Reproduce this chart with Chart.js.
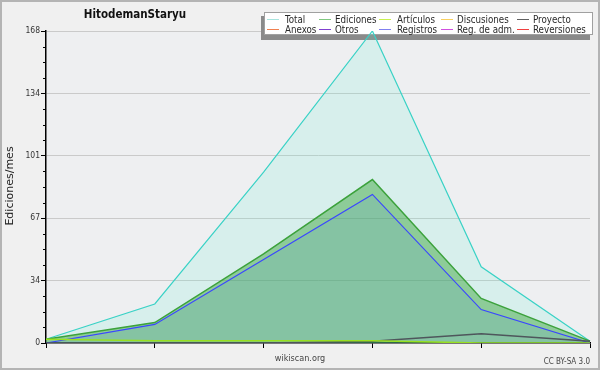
<!DOCTYPE html>
<html><head><meta charset="utf-8">
<script src="https://cdn.jsdelivr.net/npm/chart.js@4/dist/chart.umd.min.js"></script>
<style>html,body{margin:0;padding:0;background:#f0f0f0}#w{width:600px;height:370px}</style>
</head><body><div id="w"><canvas id="c" width="600" height="370"></canvas></div>
<script>
// ---- data ----
const categories = ['1', '2', '3', '4', '5', '6'];
const total      = [2, 21, 92, 168, 41, 1];
const ediciones  = [2, 11, 48, 88, 24, 1];
const registros  = [0, 10, 45, 80, 18, 0];
const articulos  = [2, 1.2, 1.2, 1.2, 0, 0];
const proyecto   = [0, 0, 0, 1, 5, 1];
const yTickValues = [0, 33.6, 67.2, 100.8, 134.4, 168];
const chartTitle = 'HitodemanStaryu';
const yTitle = 'Ediciones/mes';
const xNote = 'wikiscan.org';
const license = 'CC BY-SA 3.0';
const legendRows = [
  ['Total', 'Ediciones', 'Artículos', 'Discusiones', 'Proyecto'],
  ['Anexos', 'Otros', 'Registros', 'Reg. de adm.', 'Reversiones']
];

const legendColors = {
  'Total':'#a8e4de','Ediciones':'#80c880','Artículos':'#c8f050','Discusiones':'#f8d060','Proyecto':'#606060',
  'Anexos':'#f08050','Otros':'#8040d0','Registros':'#8080f0','Reg. de adm.':'#d050e0','Reversiones':'#f04040'
};

const COND = "'DejaVu Sans Condensed','DejaVu Sans',sans-serif";

const decor = {
  id: 'decor',
  beforeDraw(chart) {
    const ctx = chart.ctx;
    ctx.save();
    ctx.fillStyle = '#f0f0f0';
    ctx.fillRect(0, 0, 600, 370);
    ctx.strokeStyle = '#b4b4b4';
    ctx.lineWidth = 2;
    ctx.strokeRect(1, 1, 598, 368);
    const a = chart.chartArea;
    ctx.fillStyle = '#eeeff1';
    ctx.fillRect(a.left, a.top, a.right - a.left, a.bottom - a.top);
    ctx.restore();
  },
  beforeDatasetsDraw(chart) {
    const ctx = chart.ctx;
    const y = chart.scales.y;
    const a = chart.chartArea;
    ctx.save();
    // minor ticks
    ctx.strokeStyle = '#000';
    ctx.lineWidth = 1;
    for (let i = 0; i < yTickValues.length - 1; i++) {
      const lo = yTickValues[i], hi = yTickValues[i + 1];
      for (let k = 1; k < 4; k++) {
        const py = Math.round(y.getPixelForValue(lo + (hi - lo) * k / 4)) + 0.5;
        ctx.beginPath(); ctx.moveTo(a.left - 3, py); ctx.lineTo(a.left, py); ctx.stroke();
      }
    }
    // legend box
    ctx.fillStyle = '#8a8a8a';
    ctx.fillRect(261, 16, 329, 24);
    ctx.fillStyle = '#ffffff';
    ctx.fillRect(264, 12, 329, 23);
    ctx.strokeStyle = '#a0a0a0';
    ctx.strokeRect(264.5, 12.5, 328, 22);
    const lineX = [267, 319, 379, 441, 517];
    const textX = [285, 335, 397, 457, 533];
    const rowY = [19, 29];
    ctx.font = '9.7px ' + COND;
    ctx.textBaseline = 'middle';
    ctx.textAlign = 'left';
    legendRows.forEach((row, r) => row.forEach((lab, c) => {
      ctx.strokeStyle = legendColors[lab];
      ctx.lineWidth = 1;
      ctx.beginPath(); ctx.moveTo(lineX[c], rowY[r] + 0.5); ctx.lineTo(lineX[c] + 12, rowY[r] + 0.5); ctx.stroke();
      ctx.fillStyle = '#2a2a2a';
      ctx.fillText(lab, textX[c], rowY[r] + 1);
    }));
    ctx.restore();
  },
  afterDraw(chart) {
    const ctx = chart.ctx;
    ctx.save();
    ctx.fillStyle = '#111';
    ctx.font = "bold 11.5px " + COND;
    ctx.textAlign = 'center';
    ctx.textBaseline = 'middle';
    ctx.fillText(chartTitle, 135, 15);
    ctx.font = "11px 'DejaVu Sans',sans-serif";
    ctx.fillStyle = '#222';
    ctx.translate(10, 186);
    ctx.rotate(-Math.PI / 2);
    ctx.fillText(yTitle, 0, 0);
    ctx.restore();
    ctx.save();
    ctx.fillStyle = '#444';
    ctx.font = '9px ' + COND;
    ctx.textAlign = 'center';
    ctx.textBaseline = 'middle';
    ctx.fillText(xNote, 300, 359);
    ctx.font = '8px ' + COND;
    ctx.textAlign = 'right';
    ctx.fillText(license, 590, 362);
    ctx.restore();
  }
};

new Chart(document.getElementById('c'), {
  type: 'line',
  data: {
    labels: categories,
    datasets: [
      { label: 'Artículos', data: articulos, borderColor: '#98e020', borderWidth: 1.5, fill: false, order: 1 },
      { label: 'Proyecto', data: proyecto, borderColor: '#4e565c', borderWidth: 1.5, fill: false, order: 2 },
      { label: 'Registros', data: registros, borderColor: '#3a46ff', backgroundColor: 'rgba(90,150,230,0.15)', borderWidth: 1.2, fill: 'origin', order: 3 },
      { label: 'Ediciones', data: ediciones, borderColor: '#3ca23c', backgroundColor: 'rgba(60,165,60,0.48)', borderWidth: 1.5, fill: 'origin', order: 4 },
      { label: 'Total', data: total, borderColor: '#3ad2c6', backgroundColor: 'rgba(100,240,210,0.16)', borderWidth: 1.2, fill: 'origin', order: 5 }
    ]
  },
  options: {
    responsive: false,
    animation: false,
    devicePixelRatio: 1,
    layout: { padding: { left: 0, top: 31, right: 10, bottom: 0 } },
    elements: { point: { radius: 0 }, line: { tension: 0 } },
    plugins: { legend: { display: false }, title: { display: false }, tooltip: { enabled: false } },
    scales: {
      x: {
        type: 'category',
        offset: false,
        grid: { drawOnChartArea: false, drawTicks: true, tickLength: 5, color: '#000', tickColor: '#000' },
        border: { display: true, color: '#000', width: 1.5 },
        ticks: { display: false },
        afterFit(s) { s.height = 27; }
      },
      y: {
        min: 0, max: 168,
        afterBuildTicks(s) { s.ticks = yTickValues.map(v => ({ value: v })); },
        ticks: {
          callback: v => String(Math.round(v)),
          font: { family: COND, size: 8.5 },
          color: '#333',
          padding: 1,
          autoSkip: false
        },
        grid: {
          color: c => (c.tick && c.tick.value === 0) ? 'rgba(0,0,0,0)' : '#cacaca',
          tickColor: '#000',
          tickLength: 5,
          lineWidth: 1
        },
        border: { display: true, color: '#000', width: 1.5 },
        afterFit(s) { s.width = 46; }
      }
    }
  },
  plugins: [decor]
});
</script>
</body></html>
